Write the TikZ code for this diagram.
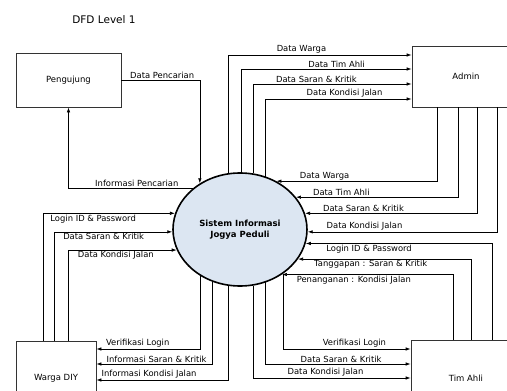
\documentclass[tikz,border=0pt]{standalone}
\usepackage{fontspec}
\setmainfont{DejaVu Sans}
\usepackage{xcolor}
\usetikzlibrary{arrows.meta,shapes.geometric}
\definecolor{procfill}{HTML}{DCE6F2}
\definecolor{edge}{HTML}{333333}

\begin{document}
\begin{tikzpicture}[x=1pt,y=-1pt,
  box/.style={draw=edge,line width=0.7pt,inner sep=0pt,font=\fontsize{8.5}{10}\selectfont},
  proc/.style={ellipse,draw,line width=1.6pt,fill=procfill,minimum width=134pt,
               minimum height=113pt,align=center,font=\bfseries\fontsize{8.5}{11}\selectfont},
  arr/.style={-{Latex[length=5pt,width=3.5pt]},line width=0.7pt},
  lbl/.style={font=\fontsize{8.4}{9}\selectfont,inner sep=1pt}
]
\useasboundingbox (0,0) rectangle (507,391);
\node[font=\fontsize{10.5}{12}\selectfont] (title) at (104,20) {DFD Level 1};
\node[box,minimum width=105pt,minimum height=54pt] (peng) at (68.5,80) {Pengujung};
\node[box,minimum width=108pt,minimum height=61pt] (admin) at (466,76.5) {Admin};
\node[box,minimum width=110pt,minimum height=76pt] (timahli) at (466,378) {Tim Ahli};
\node[box,minimum width=80pt,minimum height=74pt] (warga) at (56,378) {Warga DIY};
\node[proc] (sys) at (240,229.5) {Sistem Informasi\\Jogya Peduli};

% pengunjung
\draw[arr] (peng.east) -| node[lbl,above,pos=0.26] {Data Pencarian} (sys.131);
\draw[arr] (sys.139) -| node[lbl,above,pos=0.225] {Informasi Pencarian} (peng.south);

% ke admin
\draw[arr] (sys.102) |- node[lbl,above,pos=0.70] {Data Warga} ([yshift=21.5pt]admin.west);
\draw[arr] (sys.89) |- node[lbl,above,pos=0.78] {Data Tim Ahli} ([yshift=7.5pt]admin.west);
\draw[arr] (sys.77) |- node[lbl,above,pos=0.70] {Data Saran \& Kritik} ([yshift=-7.5pt]admin.west);
\draw[arr] (sys.64) |- node[lbl,above,pos=0.77] {Data Kondisi Jalan} ([yshift=-22.5pt]admin.west);

% dari admin
\draw[arr] ([xshift=-29pt]admin.south) |- node[lbl,above,pos=0.85] {Data Warga} (sys.53);
\draw[arr] ([xshift=-8pt]admin.south) |- node[lbl,above,pos=0.86] {Data Tim Ahli} (sys.30);
\draw[arr] ([xshift=11pt]admin.south) |- node[lbl,above,pos=0.83] {Data Saran \& Kritik} (sys.14);
\draw[arr] ([xshift=31pt]admin.south) |- node[lbl,above,pos=0.85] {Data Kondisi Jalan} (sys.-2);

% dari tim ahli
\draw[arr] ([xshift=26pt]timahli.north) |- node[lbl,below,pos=0.83] {Login ID \& Password} (sys.-12);
\draw[arr] ([xshift=5pt]timahli.north) |- node[lbl,below,pos=0.79] {Tanggapan : Saran \& Kritik} (sys.-27);
\draw[arr] ([xshift=-13pt]timahli.north) |- node[lbl,below,pos=0.79] {Penanganan : Kondisi Jalan} (sys.-47);

% ke tim ahli
\draw[arr] (sys.-46) |- node[lbl,above,pos=0.78] {Verifikasi Login} ([yshift=29pt]timahli.west);
\draw[arr] (sys.-64) |- node[lbl,above,pos=0.76] {Data Saran \& Kritik} ([yshift=14pt]timahli.west);
\draw[arr] (sys.-77) |- node[lbl,above,pos=0.73] {Data Kondisi Jalan} (timahli.west);

% dari warga
\draw[arr] ([xshift=-13pt]warga.north) |- node[lbl,below,pos=0.69] {Login ID \& Password} (sys.166);
\draw[arr] ([xshift=-2pt]warga.north) |- node[lbl,below,pos=0.71] {Data Saran \& Kritik} (sys.182);
\draw[arr] ([xshift=12pt]warga.north) |- node[lbl,below,pos=0.72] {Data Kondisi Jalan} (sys.198);

% ke warga
\draw[arr] (sys.229) |- node[lbl,above,pos=0.80] {Verifikasi Login} ([yshift=29pt]warga.east);
\draw[arr] (sys.242) |- node[lbl,above,pos=0.74] {Informasi Saran \& Kritik} ([yshift=14pt]warga.east);
\draw[arr] (sys.258) |- node[lbl,above,pos=0.80] {Informasi Kondisi Jalan} ([yshift=-2pt]warga.east);
\end{tikzpicture}
\end{document}
